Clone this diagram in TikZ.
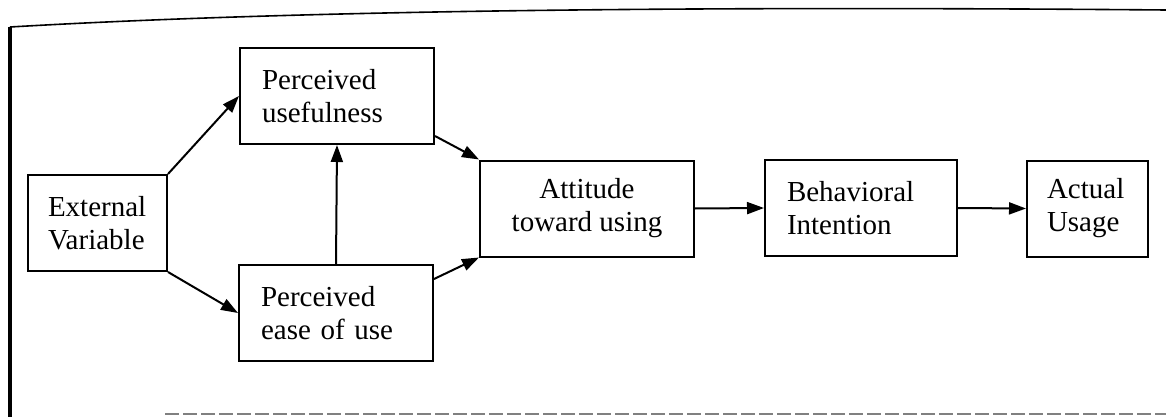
\documentclass[tikz,border=0pt]{standalone}
\usepackage{fontspec}
\setmainfont{Liberation Serif}
\usetikzlibrary{arrows.meta,calc}
\begin{document}
\begin{tikzpicture}[x=1pt,y=-1pt,
  box/.style={draw,line width=2pt,minimum height=96pt,inner ysep=0pt,
    font=\fontsize{29}{33}\selectfont},
  lbox/.style={box,align=left},
  arr/.style={line width=2pt,-{Triangle[length=17pt,width=12pt]}}]
\useasboundingbox (0,0) rectangle (1166,417);
% frame of the scanned page
\draw[line width=1.6pt] (10,27) .. controls (300,10) and (700,6) .. (1166,10);
\draw[line width=4pt] (10,27) -- (10,417);
\draw[gray,line width=1.8pt,dash pattern=on 14pt off 4pt] (165,414) -- (1166,414);
% boxes
\node[lbox,inner xsep=20pt,text width=99pt] (ev) at (97.5,223) {External\\Variable};
\node[lbox,inner xsep=22pt,text width=150pt] (pu) at (337,96) {Perceived\\usefulness};
\node[lbox,inner xsep=22pt,text width=150pt] (peu) at (336,313) {Perceived\\ease of use};
\node[box,align=center,minimum width=214pt,inner xsep=0pt] (att) at (587,208.5) {Attitude\\toward using};
\node[lbox,inner xsep=22pt,text width=148pt] (bi) at (861,208) {Behavioral\\Intention};
\node[lbox,inner xsep=20pt,text width=81pt] (au) at (1087.5,208.5) {Actual\\Usage};
% connectors
\draw[arr] (ev.north east) -- (pu.west);
\draw[arr] (ev.south east) -- (peu.west);
\draw[arr] (peu.north) -- (pu.south);
\draw[arr] ($(pu.south east)+(0,-9)$) -- (att.north west);
\draw[arr] ($(peu.north east)+(0,15)$) -- (att.south west);
\draw[arr] (att.east) -- (bi.west);
\draw[arr] (bi.east) -- (au.west);
\end{tikzpicture}
\end{document}
